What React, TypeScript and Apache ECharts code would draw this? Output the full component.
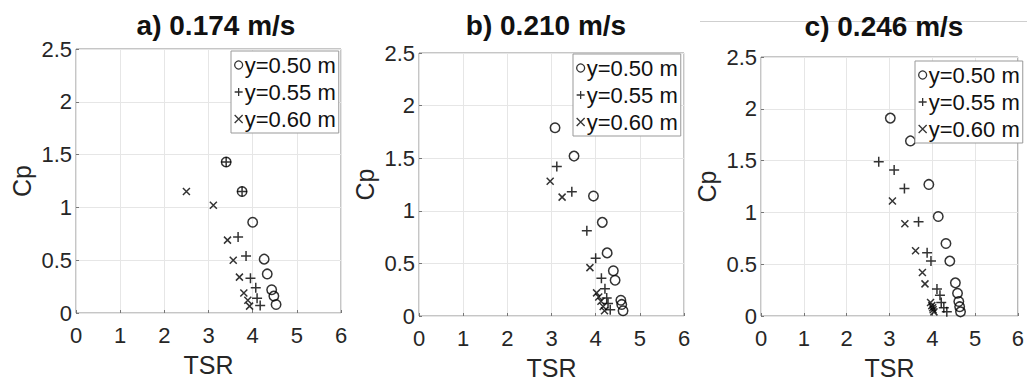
import React, { useEffect, useRef } from "react";
import * as echarts from "echarts";

const titles = ["a) 0.174 m/s", "b) 0.210 m/s", "c) 0.246 m/s"];
const seriesNames = ["y=0.50 m", "y=0.55 m", "y=0.60 m"];
const xTicks = [0, 1, 2, 3, 4, 5, 6];
const yTicks = [0, 0.5, 1, 1.5, 2, 2.5];

// panel a) 0.174 m/s
const a050 = [[3.40, 1.43], [3.76, 1.15], [4.0, 0.86], [4.26, 0.51], [4.33, 0.37], [4.43, 0.22], [4.48, 0.16], [4.53, 0.08]];
const a055 = [[3.40, 1.43], [3.76, 1.15], [3.67, 0.72], [3.85, 0.54], [3.95, 0.33], [4.07, 0.24], [4.10, 0.14], [4.17, 0.07]];
const a060 = [[2.50, 1.15], [3.11, 1.02], [3.43, 0.69], [3.56, 0.50], [3.70, 0.34], [3.80, 0.19], [3.89, 0.12], [3.93, 0.065]];

// panel b) 0.210 m/s
const b050 = [[3.08, 1.79], [3.51, 1.52], [3.95, 1.14], [4.15, 0.89], [4.26, 0.60], [4.40, 0.43], [4.44, 0.34], [4.57, 0.15], [4.59, 0.11], [4.62, 0.05]];
const b055 = [[3.12, 1.42], [3.46, 1.18], [3.80, 0.81], [4.0, 0.55], [4.13, 0.36], [4.21, 0.26], [4.25, 0.17], [4.28, 0.12], [4.33, 0.06]];
const b060 = [[2.97, 1.28], [3.24, 1.13], [3.87, 0.46], [4.02, 0.22], [4.07, 0.18], [4.12, 0.14], [4.17, 0.09], [4.20, 0.05]];

// panel c) 0.246 m/s
const c050 = [[3.02, 1.91], [3.49, 1.69], [3.92, 1.27], [4.14, 0.96], [4.32, 0.70], [4.41, 0.53], [4.54, 0.32], [4.59, 0.22], [4.62, 0.14], [4.64, 0.09], [4.66, 0.04]];
const c055 = [[2.75, 1.49], [3.11, 1.41], [3.35, 1.23], [3.68, 0.91], [3.88, 0.61], [3.97, 0.53], [4.11, 0.26], [4.18, 0.20], [4.21, 0.13], [4.27, 0.08], [4.34, 0.04]];
const c060 = [[3.07, 1.11], [3.36, 0.89], [3.61, 0.63], [3.77, 0.42], [3.83, 0.31], [3.96, 0.13], [3.99, 0.10], [4.01, 0.08], [4.02, 0.06], [4.04, 0.04]];

const panelData = [
  [a050, a055, a060],
  [b050, b055, b060],
  [c050, c055, c060],
];

const FONT = "'Liberation Sans', Arial, Helvetica, sans-serif";
const symbols = [
  "circle",
  "path://M0,5L10,5M5,0L5,10",
  "path://M0,0L10,10M10,0L0,10",
];
const symbolSizes = [9.5, 10, 7];

const grids = [
  { left: 76, top: 49, width: 265, height: 264 },
  { left: 419, top: 53, width: 265, height: 264 },
  { left: 761, top: 57, width: 265, height: 264 },
];
const titlePos = [
  [216, 25],
  [546, 25],
  [884, 26],
];
const legendPos = [
  [231, 51],
  [573, 54],
  [915, 61],
];

export default function App() {
  const ref = useRef<HTMLDivElement>(null);
  useEffect(() => {
    if (!ref.current) return;
    const chart = echarts.init(ref.current, null, { renderer: "svg" });
    const xAxes: any[] = [];
    const yAxes: any[] = [];
    const series: any[] = [];
    const legends: any[] = [];
    grids.forEach((g, i) => {
      xAxes.push({
        gridIndex: i,
        type: "value",
        min: xTicks[0],
        max: xTicks[xTicks.length - 1],
        interval: 1,
        name: "TSR",
        nameLocation: "middle",
        nameGap: 39,
        nameTextStyle: { fontFamily: FONT, fontSize: 25, color: "#262626" },
        axisLine: { show: false },
        axisTick: { show: true, inside: true, length: 3, lineStyle: { color: "#777" } },
        axisLabel: { fontFamily: FONT, fontSize: 22, color: "#262626", margin: 11 },
        splitLine: { show: true, lineStyle: { color: "#e6e6e6", width: 1 } },
      });
      yAxes.push({
        gridIndex: i,
        type: "value",
        min: yTicks[0],
        max: yTicks[yTicks.length - 1],
        interval: 0.5,
        name: "Cp",
        nameLocation: "middle",
        nameGap: 42,
        nameTextStyle: { fontFamily: FONT, fontSize: 25, color: "#262626" },
        axisLine: { show: false },
        axisTick: { show: true, inside: true, length: 3, lineStyle: { color: "#777" } },
        axisLabel: {
          fontFamily: FONT,
          fontSize: 22,
          color: "#262626",
          margin: 4,
          formatter: (v: number) => String(v),
        },
        splitLine: { show: true, lineStyle: { color: "#e6e6e6", width: 1 } },
      });
      panelData[i].forEach((d, k) => {
        series.push({
          type: "scatter",
          name: seriesNames[k],
          xAxisIndex: i,
          yAxisIndex: i,
          data: d,
          symbol: symbols[k],
          symbolSize: symbolSizes[k],
          itemStyle: { color: "rgba(0,0,0,0)", borderColor: "#000", borderWidth: 1.5 },
          emphasis: { disabled: true },
          z: 3,
        });
      });
      legends.push({
        orient: "vertical",
        left: legendPos[i][0],
        top: legendPos[i][1],
        data: seriesNames,
        backgroundColor: "#fff",
        borderColor: "#999",
        borderWidth: 1,
        padding: [3, 3, 3, 3],
        itemWidth: 8,
        itemHeight: 8,
        itemGap: 5,
        selectedMode: false,
        itemStyle: { color: "rgba(0,0,0,0)", borderColor: "#000", borderWidth: 1.3 },
        textStyle: { fontFamily: FONT, fontSize: 22, color: "#111", padding: [0, 0, 0, -3] },
        z: 10,
      });
    });
    const graphics: any[] = titles.map((t, i) => ({
      type: "text",
      x: titlePos[i][0],
      y: titlePos[i][1],
      style: {
        text: t,
        fontFamily: FONT,
        fontSize: 28,
        fontWeight: "bold",
        fill: "#111",
        textAlign: "center",
        textVerticalAlign: "middle",
      },
      z: 10,
    }));
    graphics.push({
      type: "line",
      shape: { x1: 700, y1: 21.5, x2: 1027, y2: 21.5 },
      style: { stroke: "#cfcfcf", lineWidth: 1 },
      z: 0,
    });
    chart.setOption({
      animation: false,
      backgroundColor: "#fff",
      grid: grids.map((g) => ({
        ...g,
        show: true,
        borderColor: "#8c8c8c",
        borderWidth: 1,
        backgroundColor: "transparent",
        containLabel: false,
      })),
      xAxis: xAxes,
      yAxis: yAxes,
      legend: legends,
      series,
      graphic: graphics,
    });
    return () => chart.dispose();
  }, []);
  return (
    <div
      ref={ref}
      style={{ position: "fixed", left: 0, top: 0, width: 1027, height: 385, background: "#fff" }}
    />
  );
}
